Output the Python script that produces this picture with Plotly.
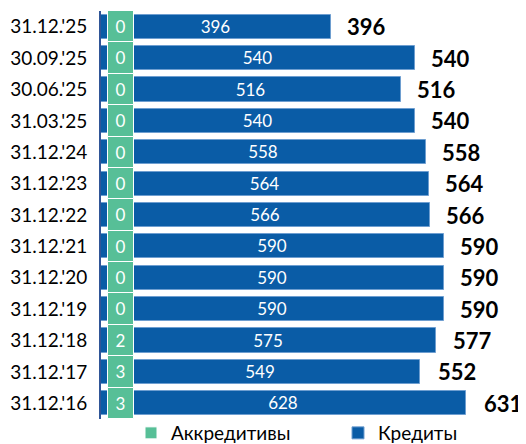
import plotly.graph_objects as go

dates = ["31.12.'25", "30.09.'25", "30.06.'25", "31.03.'25", "31.12.'24", "31.12.'23",
         "31.12.'22", "31.12.'21", "31.12.'20", "31.12.'19", "31.12.'18", "31.12.'17", "31.12.'16"]
credits = [396, 540, 516, 540, 558, 564, 566, 590, 590, 590, 575, 549, 628]
accreditives = [0, 0, 0, 0, 0, 0, 0, 0, 0, 0, 2, 3, 3]
totals = [c + a for c, a in zip(credits, accreditives)]

BLUE = "#0A5CA6"
GREEN = "#57BF97"
FONT = "Lato"
W, H = 518, 436  # page body has an 8px margin inside the 526x444 window

fig = go.Figure()
fig.add_trace(go.Bar(
    y=dates, x=credits, orientation="h", name="Кредиты",
    marker=dict(color=BLUE, line=dict(color="#6E9ED0", width=1)),
    width=0.77, text=[str(v) for v in credits], textposition="inside",
    insidetextanchor="middle", textangle=0, constraintext="none",
    textfont=dict(color="white", size=17, family=FONT),
    hoverinfo="skip", legend="legend2",
))
# Accreditives shown as a fixed-width label column over the bars
fig.add_trace(go.Bar(
    y=dates, x=[45] * len(dates), base=[12] * len(dates), orientation="h", name="Аккредитивы",
    marker=dict(color=GREEN, line=dict(color="white", width=1)),
    width=1.0, text=[str(v) for v in accreditives], textposition="inside",
    insidetextanchor="middle", textangle=0, constraintext="none",
    textfont=dict(color="white", size=17, family=FONT),
    hoverinfo="skip", legend="legend",
))

for d, t in zip(dates, totals):
    fig.add_annotation(x=t, y=d, text=f"<b>{t}</b>", showarrow=False, xanchor="left",
                       xshift=14, font=dict(size=22, color="black", family=FONT))

legend_common = dict(orientation="h", xref="container", yref="container",
                     xanchor="left", y=1 - 425 / H, yanchor="middle",
                     font=dict(size=19, family=FONT, color="black"), itemwidth=30,
                     bgcolor="rgba(0,0,0,0)")

fig.update_layout(
    width=W, height=H, barmode="overlay", bargap=0,
    margin=dict(l=93, r=6, t=3, b=25, autoexpand=False),
    plot_bgcolor="white", paper_bgcolor="white",
    legend=dict(x=123 / W, **legend_common),
    legend2=dict(x=330 / W, **legend_common),
    showlegend=True,
)
fig.update_xaxes(range=[0, 720], visible=False, automargin=False)
fig.update_yaxes(categoryorder="array", categoryarray=dates, autorange="reversed",
                 showline=True, linecolor="#2F5597", linewidth=2, ticks="",
                 tickfont=dict(size=19, family=FONT, color="black"), ticklabelstandoff=8,
                 showgrid=False, automargin=False)

fig.write_html("out.html")
